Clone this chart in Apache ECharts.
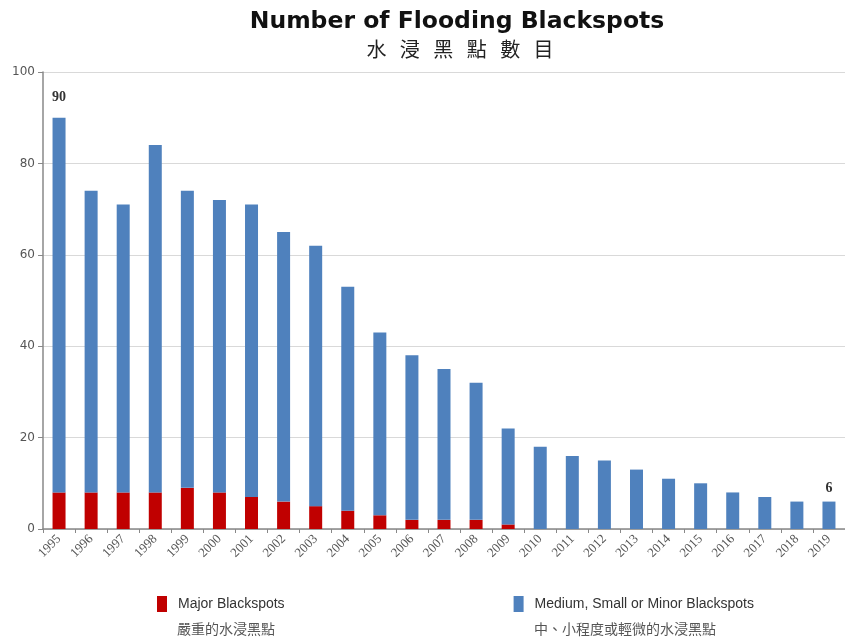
<!DOCTYPE html>
<html>
<head>
<meta charset="utf-8">
<script src="https://cdn.jsdelivr.net/npm/echarts@6/dist/echarts.min.js"></script>
<style>
  html, body { margin: 0; padding: 0; background: #fff; }
  #chart { width: 845px; height: 641px; }
</style>
</head>
<body>
<div id="chart"></div>
<script>
// Years on the category axis
const years = ['1995','1996','1997','1998','1999','2000','2001','2002','2003','2004','2005','2006','2007',
               '2008','2009','2010','2011','2012','2013','2014','2015','2016','2017','2018','2019'];
// Major blackspots per year
const major = [8, 8, 8, 8, 9, 8, 7, 6, 5, 4, 3, 2, 2, 2, 1, 0, 0, 0, 0, 0, 0, 0, 0, 0, 0];
// Medium, small or minor blackspots per year
const minor = [82, 66, 63, 76, 65, 64, 64, 59, 57, 49, 40, 36, 33, 30, 21, 18, 16, 15, 13, 11, 10, 8, 7, 6, 6];
// Value axis ticks
const yTicks = [0, 20, 40, 60, 80, 100];
// Years whose total is written above the bar, with the label's gap above the bar
const labelledYears = { '1995': 13, '2019': 6 };

const chart = echarts.init(document.getElementById('chart'), null, { renderer: 'canvas' });

const gray = '#888888';

chart.setOption({
  animation: false,
  backgroundColor: '#ffffff',
  title: [
    {
      text: 'Number of Flooding Blackspots',
      left: 452, top: 5, textAlign: 'center',
      textStyle: { fontFamily: 'DejaVu Sans', fontWeight: 'bold', fontSize: 23.5, color: '#111' }
    },
    {
      text: '水   浸   黑   點   數   目',
      left: 455, top: 34, textAlign: 'center',
      textStyle: { fontFamily: 'Noto Sans CJK TC', fontWeight: 'normal', fontSize: 20, color: '#222' }
    }
  ],
  grid: { left: 43, right: -4, top: 72, bottom: 112, containLabel: false },
  xAxis: {
    type: 'category',
    data: years,
    axisLine: { lineStyle: { color: gray, width: 1.5 } },
    axisTick: { show: true, alignWithLabel: false, length: 4, lineStyle: { color: gray } },
    axisLabel: {
      rotate: 45, interval: 0, margin: 8,
      fontFamily: 'Liberation Serif', fontSize: 13, color: '#555'
    },
    splitLine: { show: false }
  },
  yAxis: {
    type: 'value',
    min: yTicks[0], max: yTicks[yTicks.length - 1], interval: 20,
    axisLine: { show: true, lineStyle: { color: gray, width: 1.5 } },
    axisTick: { show: true, length: 5, lineStyle: { color: gray } },
    axisLabel: { fontFamily: 'DejaVu Sans', fontSize: 12, color: '#555', margin: 8 },
    splitLine: { show: true, lineStyle: { color: '#d9d9d9', width: 1 } }
  },
  legend: {
    show: true,
    data: ['Major Blackspots', 'Medium, Small or Minor Blackspots'],
    top: 596, left: 157,
    padding: 0,
    itemGap: 229,
    icon: 'rect', itemWidth: 10, itemHeight: 16,
    textStyle: { fontFamily: 'Liberation Sans', fontSize: 14, color: '#333', padding: [0, 0, 0, 6] }
  },
  graphic: [
    { type: 'text', left: 177, top: 622,
      style: { text: '嚴重的水浸黑點', fontFamily: 'Noto Sans CJK TC', fontSize: 14, fill: '#555' } },
    { type: 'text', left: 534, top: 622,
      style: { text: '中、小程度或輕微的水浸黑點', fontFamily: 'Noto Sans CJK TC', fontSize: 14, fill: '#555' } }
  ],
  series: [
    {
      name: 'Major Blackspots',
      type: 'bar',
      stack: 'total',
      barWidth: 13,
      itemStyle: { color: '#C00000' },
      data: major
    },
    {
      name: 'Medium, Small or Minor Blackspots',
      type: 'bar',
      stack: 'total',
      barWidth: 13,
      itemStyle: { color: '#4F81BD' },
      data: minor.map((v, i) => ({
        value: v,
        label: {
          show: years[i] in labelledYears,
          position: 'top',
          distance: labelledYears[years[i]] || 5,
          fontFamily: 'Liberation Serif',
          fontWeight: 'bold',
          fontSize: 14,
          color: '#333',
          formatter: () => String(major[i] + minor[i])
        }
      }))
    }
  ]
});
</script>
</body>
</html>
